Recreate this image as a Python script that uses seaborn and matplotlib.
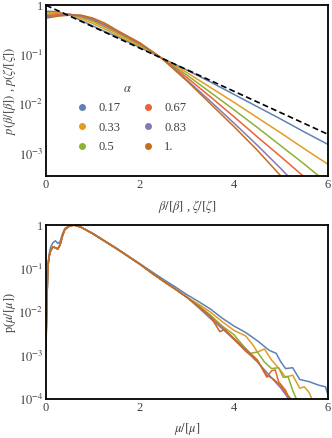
import numpy as np
import pandas as pd
import matplotlib
matplotlib.use("Agg")
import matplotlib.pyplot as plt
import seaborn as sns
from matplotlib.lines import Line2D

# alpha values and Mathematica-style colours
alphas = ["0.17", "0.33", "0.5", "0.67", "0.83", "1."]
colors = ["#5E81B5", "#E19C24", "#8FB032", "#EB6235", "#8778B3", "#C56E1A"]

# top panel: log10 p(beta/[beta])
top_x = [0, 0.25, 0.5, 0.75, 1.0, 1.25, 1.5, 2.0, 2.45, 3.0, 3.5, 4.0, 4.5, 5.0, 5.5, 6.0]
top_logp = {
    "0.17": [-0.12, -0.13, -0.20, -0.31, -0.42, -0.53, -0.63, -0.85, -1.06, -1.31, -1.55, -1.80, -2.05, -2.30, -2.56, -2.81],
    "0.33": [-0.15, -0.15, -0.19, -0.27, -0.37, -0.48, -0.60, -0.83, -1.06, -1.36, -1.66, -1.96, -2.27, -2.58, -2.90, -3.21],
    "0.5":  [-0.18, -0.17, -0.18, -0.24, -0.33, -0.44, -0.56, -0.80, -1.06, -1.41, -1.76, -2.11, -2.47, -2.84, -3.21, -3.60],
    "0.67": [-0.21, -0.19, -0.18, -0.22, -0.30, -0.41, -0.53, -0.78, -1.06, -1.46, -1.85, -2.25, -2.66, -3.06, -3.47, -3.90],
    "0.83": [-0.23, -0.21, -0.19, -0.21, -0.28, -0.39, -0.51, -0.77, -1.06, -1.51, -1.94, -2.38, -2.83, -3.30, -3.80, -4.30],
    "1.":   [-0.26, -0.22, -0.20, -0.20, -0.26, -0.36, -0.50, -0.76, -1.06, -1.53, -1.99, -2.45, -2.93, -3.45, -3.95, -4.45],
}
exp_x = [0, 6]
exp_p = [1.0, 0.00248]

# bottom panel: log10 p(mu/[mu])
mu_head_x = [0.0, 0.02, 0.04, 0.07, 0.1, 0.15, 0.2, 0.25, 0.3, 0.35, 0.4, 0.5, 0.6,
             0.75, 1.0, 1.25, 1.5, 1.75, 2.0, 2.25, 2.5, 2.75, 3.0]
mu_head_blue = [-2.9, -1.8, -0.9, -0.65, -0.5, -0.4, -0.36, -0.42, -0.38, -0.2, -0.08, -0.01, 0.0,
                -0.05, -0.19, -0.36, -0.53, -0.71, -0.89, -1.07, -1.25, -1.42, -1.6]
mu_head_rest = [-2.7, -1.7, -0.95, -0.7, -0.58, -0.5, -0.52, -0.55, -0.45, -0.25, -0.1, -0.02, 0.0,
                -0.05, -0.2, -0.37, -0.54, -0.72, -0.9, -1.1, -1.29, -1.47, -1.66]
mu_tail_x = {
    "0.17": [3.25, 3.5, 3.75, 4.0, 4.25, 4.5, 4.75, 4.9, 5.0, 5.1, 5.25, 5.4, 5.6, 5.8, 5.95, 6.0],
    "0.33": [3.25, 3.5, 3.75, 4.0, 4.25, 4.4, 4.5, 4.65, 4.8, 5.0, 5.1, 5.25, 5.4, 5.5, 5.6, 5.68],
    "0.5":  [3.25, 3.5, 3.75, 4.0, 4.2, 4.35, 4.5, 4.65, 4.8, 4.95, 5.05, 5.15, 5.25, 5.35],
    "0.67": [3.25, 3.5, 3.75, 4.0, 4.25, 4.5, 4.7, 4.8, 4.88, 4.95, 5.1, 5.2],
    "0.83": [3.25, 3.5, 3.75, 4.0, 4.25, 4.5, 4.75, 5.0, 5.2],
    "1.":   [3.25, 3.5, 3.7, 3.8, 4.0, 4.25, 4.5, 4.7, 4.85, 5.0, 5.1, 5.25],
}
mu_tail_logp = {
    "0.17": [-1.76, -1.93, -2.14, -2.32, -2.47, -2.66, -2.88, -2.95, -3.15, -3.3, -3.28, -3.55, -3.6, -3.68, -3.72, -3.9],
    "0.33": [-1.82, -2.0, -2.22, -2.42, -2.55, -2.75, -2.92, -2.85, -3.1, -3.35, -3.5, -3.45, -3.75, -3.72, -3.85, -4.05],
    "0.5":  [-1.85, -2.07, -2.32, -2.52, -2.78, -2.95, -2.92, -3.15, -3.3, -3.28, -3.5, -3.48, -3.8, -4.05],
    "0.67": [-1.87, -2.1, -2.35, -2.6, -2.85, -3.1, -3.5, -3.35, -3.33, -3.6, -3.8, -4.05],
    "0.83": [-1.9, -2.15, -2.38, -2.63, -2.88, -3.15, -3.45, -3.75, -4.05],
    "1.":   [-1.88, -2.1, -2.45, -2.4, -2.62, -2.9, -3.12, -3.45, -3.55, -3.7, -3.85, -4.05],
}

top_yticks = [1e-3, 1e-2, 1e-1, 1]
top_yticklabels = [r"$10^{-3}$", r"$10^{-2}$", r"$10^{-1}$", "1"]
bot_yticks = [1e-4, 1e-3, 1e-2, 1e-1, 1]
bot_yticklabels = [r"$10^{-4}$", r"$10^{-3}$", r"$10^{-2}$", r"$10^{-1}$", "1"]
xticks = [0, 2, 4, 6]

# long tables for seaborn
rows = []
for a in alphas:
    for x, lp in zip(top_x, top_logp[a]):
        rows.append((a, x, 10 ** lp))
df_top = pd.DataFrame(rows, columns=["alpha", "x", "p"])

rows = []
for a in alphas:
    head = mu_head_blue if a == "0.17" else mu_head_rest
    xs = mu_head_x + mu_tail_x[a]
    ls = head + mu_tail_logp[a]
    for x, lp in zip(xs, ls):
        rows.append((a, x, 10 ** lp))
df_bot = pd.DataFrame(rows, columns=["alpha", "x", "p"])

sns.set_style("white")
plt.rcParams["font.family"] = ["Liberation Serif", "DejaVu Serif"]
plt.rcParams["mathtext.fontset"] = "stix"
plt.rcParams["font.size"] = 9

fig = plt.figure(figsize=(3.32, 4.38), dpi=100)
ax1 = fig.add_axes([0.1386, 0.598, 0.849, 0.390])
ax2 = fig.add_axes([0.1386, 0.089, 0.849, 0.397])

pal = dict(zip(alphas, colors))
sns.lineplot(data=df_top, x="x", y="p", hue="alpha", hue_order=alphas, palette=pal,
             legend=False, ax=ax1, linewidth=1.1)
ax1.plot(exp_x, exp_p, color="black", linestyle=(0, (3.5, 2)), linewidth=1.2)

sns.lineplot(data=df_bot, x="x", y="p", hue="alpha", hue_order=alphas, palette=pal,
             legend=False, ax=ax2, linewidth=1.1)

txt = "0.25"
for ax, yt, ytl, ylim in [(ax1, top_yticks, top_yticklabels, (10 ** -3.45, 1)),
                          (ax2, bot_yticks, bot_yticklabels, (1e-4, 1))]:
    ax.set_yscale("log")
    ax.set_xlim(0, 6)
    ax.set_ylim(*ylim)
    ax.set_xticks(xticks)
    ax.set_xticklabels([str(t) for t in xticks])
    ax.set_yticks(yt)
    ax.set_yticklabels(ytl)
    ax.yaxis.set_minor_locator(matplotlib.ticker.NullLocator())
    ax.tick_params(direction="in", length=3, width=1, colors="black", labelcolor=txt,
                   labelsize=9, pad=2, top=False, right=False)
    for s in ax.spines.values():
        s.set_linewidth(1.3)
        s.set_color("black")

ax1.set_xlabel(r"$\beta/[\beta]$ , $\zeta/[\zeta]$", color=txt, fontsize=9, labelpad=5)
ax1.set_ylabel(r"$p(\beta/[\beta])$ , $p(\zeta/[\zeta])$", color=txt, fontsize=9, labelpad=0)
ax2.set_xlabel(r"$\mu/[\mu]$", color=txt, fontsize=9, labelpad=5)
ax2.set_ylabel(r"p($\mu/[\mu]$)", color=txt, fontsize=9, labelpad=0)
for ax in (ax1, ax2):
    ax.yaxis.set_label_coords(-0.098, 0.5)

handles = [Line2D([], [], marker="o", linestyle="", color=c, markersize=4) for c in colors]
leg = ax1.legend(handles, alphas, title=r"$\alpha$", ncol=2, frameon=False,
                 loc="center", bbox_to_anchor=(0.29, 0.34), handletextpad=0.3,
                 columnspacing=1.2, labelspacing=0.6, fontsize=9, title_fontsize=9)
for t in leg.get_texts():
    t.set_color(txt)
leg.get_title().set_color(txt)

fig.savefig("out.png", dpi=100)
